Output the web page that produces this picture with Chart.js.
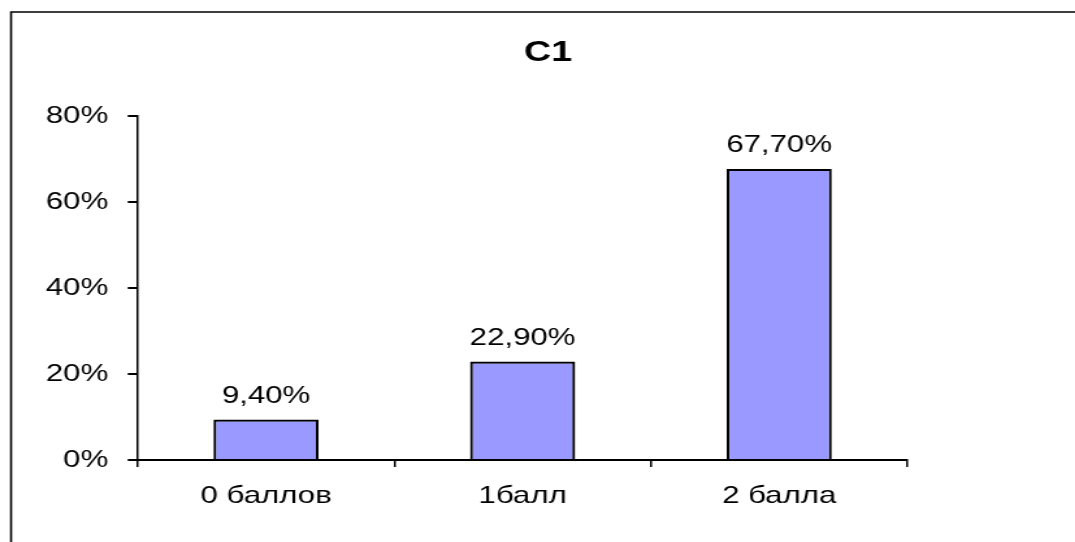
<!DOCTYPE html>
<html>
<head>
<meta charset="utf-8">
<script src="https://cdn.jsdelivr.net/npm/chart.js@4"></script>
<style>
  html, body { margin: 0; padding: 0; background: #fff; overflow: hidden; }
  #wrap { width: 827px; height: 542px; transform: scaleX(1.3); transform-origin: 0 0; }
</style>
</head>
<body>
<div id="wrap"><canvas id="chart" width="827" height="542"></canvas></div>
<script>
const categories = ["0 баллов", "1балл", "2 балла"];
const values = [9.4, 22.9, 67.7];
const yTicks = [0, 20, 40, 60, 80];
const chartTitle = "C1";

const fontFamily = "'Liberation Sans', Arial, sans-serif";

// frame + title + value labels
const decor = {
    id: 'decor',
    beforeDraw(chart) {
        const ctx = chart.ctx;
        ctx.save();
        ctx.strokeStyle = '#000';
        ctx.lineWidth = 1.6;
        ctx.beginPath();
        ctx.moveTo(8.5, 600);
        ctx.lineTo(8.5, 12);
        ctx.lineTo(900, 12);
        ctx.stroke();
        ctx.restore();
    },
    afterDatasetsDraw(chart) {
        const ctx = chart.ctx;
        ctx.save();
        ctx.fillStyle = '#000';
        ctx.font = 'bold 29px ' + fontFamily;
        ctx.textAlign = 'center';
        ctx.textBaseline = 'alphabetic';
        ctx.fillText(chartTitle, 421.5, 61);

        ctx.font = '24px ' + fontFamily;
        chart.getDatasetMeta(0).data.forEach((bar, i) => {
            const txt = values[i].toFixed(2).replace('.', ',') + '%';
            ctx.fillText(txt, bar.x, bar.y - 17);
        });
        ctx.restore();
    }
};

new Chart(document.getElementById('chart'), {
    type: 'bar',
    data: {
        labels: categories,
        datasets: [{
            data: values,
            backgroundColor: '#9999FF',
            borderColor: '#000',
            borderWidth: 2.2,
            borderSkipped: 'bottom',
            categoryPercentage: 0.41,
            barPercentage: 1
        }]
    },
    options: {
        responsive: false,
        animation: false,
        layout: { padding: { left: 0, right: 129, top: 116, bottom: 0 } },
        plugins: {
            legend: { display: false },
            title: { display: false },
            tooltip: { enabled: false }
        },
        scales: {
            x: {
                offset: true,
                grid: {
                    offset: true,
                    drawOnChartArea: false,
                    drawTicks: true,
                    tickLength: 7,
                    color: '#000',
                    lineWidth: 1.5
                },
                border: { color: '#000', width: 2 },
                ticks: {
                    color: '#000',
                    padding: 15,
                    font: { family: fontFamily, size: 24 },
                    maxRotation: 0
                },
                afterFit(scale) { scale.height = 82; }
            },
            y: {
                min: 0,
                max: 80,
                afterBuildTicks(scale) { scale.ticks = yTicks.map(v => ({ value: v })); },
                grid: {
                    drawOnChartArea: false,
                    drawTicks: true,
                    tickLength: 7.7,
                    color: '#000',
                    lineWidth: 2
                },
                border: { color: '#000', width: 1.5 },
                ticks: {
                    color: '#000',
                    padding: 15,
                    font: { family: fontFamily, size: 24 },
                    callback: v => v + '%'
                },
                afterFit(scale) { scale.width = 106; }
            }
        }
    },
    plugins: [decor]
});
</script>
</body>
</html>
